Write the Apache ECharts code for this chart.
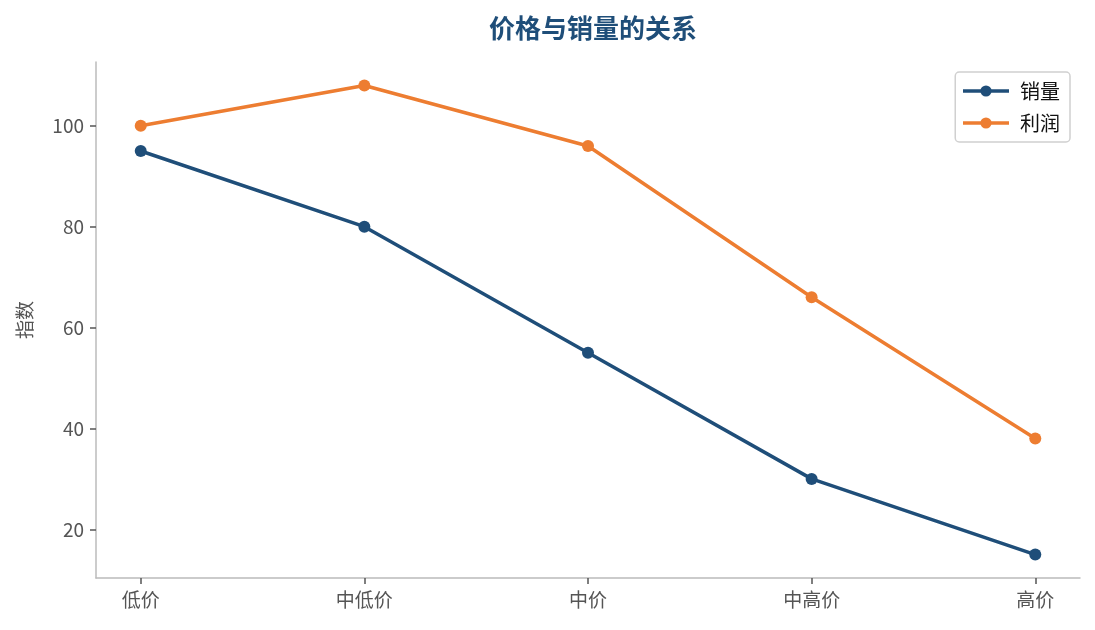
<!DOCTYPE html>
<html>
<head>
<meta charset="utf-8">
<script src="https://cdn.jsdelivr.net/npm/echarts@6/dist/echarts.min.js"></script>
<style>
  html, body { margin: 0; padding: 0; background: #fff; }
  #main { width: 1095px; height: 630px; }
</style>
</head>
<body>
<div id="main"></div>
<script>
var categories = ['低价', '中低价', '中价', '中高价', '高价'];
var sales = [95, 80, 55, 30, 15];
var profit = [100, 108, 96, 66, 38];
var yTicks = [20, 40, 60, 80, 100];

var font = "'Noto Sans CJK SC', 'Noto Sans', sans-serif";

function pairs(arr) {
	return arr.map(function (v, i) { return [i, v]; });
}

var myChart = echarts.init(document.getElementById('main'));
var option = {
	backgroundColor: '#fff',
	animation: false,
	title: {
		text: '价格与销量的关系',
		left: 588,
		textAlign: 'center',
		top: 10,
		textStyle: {
			fontFamily: font,
			fontSize: 26,
			fontWeight: 'bold',
			color: '#1f4e79'
		}
	},
	legend: {
		orient: 'vertical',
		right: 25,
		top: 72,
		padding: [9, 10, 9, 6],
		itemGap: 12,
		itemWidth: 46,
		itemHeight: 14,
		borderColor: '#d0d0d0',
		borderWidth: 1.5,
		borderRadius: 4,
		lineStyle: { width: 3.5 },
		textStyle: { fontFamily: font, fontSize: 20, color: '#111', padding: [0, 0, 0, 6] },
		data: ['销量', '利润']
	},
	grid: { left: 96, right: 15, top: 62, bottom: 52 },
	xAxis: {
		type: 'value',
		min: -0.2,
		max: 4.2,
		splitLine: { show: false },
		axisLine: { show: true, onZero: false, lineStyle: { color: '#bbbbbb', width: 1.5 } },
		axisTick: {
			show: true,
			length: 6,
			lineStyle: { color: '#555', width: 1.5 },
			customValues: [0, 1, 2, 3, 4]
		},
		axisLabel: {
			customValues: [0, 1, 2, 3, 4],
			margin: 12,
			fontFamily: font,
			fontSize: 19,
			color: '#555',
			formatter: function (v) { return categories[Math.round(v)]; }
		}
	},
	yAxis: {
		type: 'value',
		min: 10.35,
		max: 112.65,
		name: '指数',
		nameLocation: 'middle',
		nameGap: 62,
		nameTextStyle: { fontFamily: font, fontSize: 19, color: '#555' },
		splitLine: { show: false },
		axisLine: { show: true, onZero: false, lineStyle: { color: '#bbbbbb', width: 1.5 } },
		axisTick: {
			show: true,
			length: 6,
			lineStyle: { color: '#555', width: 1.5 },
			customValues: yTicks
		},
		axisLabel: {
			customValues: yTicks,
			margin: 12,
			fontFamily: font,
			fontSize: 19,
			color: '#555'
		}
	},
	series: [{
			name: '销量',
			type: 'line',
			data: pairs(sales),
			symbol: 'circle',
			symbolSize: 12,
			lineStyle: { width: 3.5, color: '#1f4e79' },
			itemStyle: { color: '#1f4e79' }
		},
		{
			name: '利润',
			type: 'line',
			data: pairs(profit),
			symbol: 'circle',
			symbolSize: 12,
			lineStyle: { width: 3.5, color: '#ed7d31' },
			itemStyle: { color: '#ed7d31' }
		}
	]
};
myChart.setOption(option);
</script>
</body>
</html>
